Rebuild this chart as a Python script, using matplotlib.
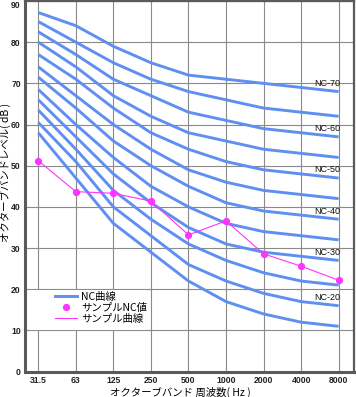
import matplotlib
matplotlib.use("Agg")
import matplotlib.pyplot as plt
from matplotlib.lines import Line2D
from matplotlib.patches import Rectangle

# octave band centre frequencies (tick labels)
freq_labels = ["31.5", "63", "125", "250", "500", "1000", "2000", "4000", "8000"]

# NC curves, levels in dB for each octave band
nc_levels = [15, 20, 25, 30, 35, 40, 45, 50, 55, 60, 65, 70]
nc_curves = [
    [58.0, 47, 36, 29, 22, 17, 14, 12, 11],
    [60.5, 51, 40, 33, 26, 22, 19, 17, 16],
    [63.5, 54, 44, 37, 31, 27, 24, 22, 21],
    [66.0, 57, 48, 41, 35, 31, 29, 28, 27],
    [68.5, 60, 52, 45, 40, 36, 34, 33, 32],
    [71.5, 64, 56, 50, 45, 41, 39, 38, 37],
    [74.0, 67, 60, 54, 49, 46, 44, 43, 42],
    [77.0, 71, 64, 58, 54, 51, 49, 48, 47],
    [80.0, 74, 67, 62, 58, 56, 54, 53, 52],
    [82.5, 77, 71, 67, 63, 61, 59, 58, 57],
    [85.0, 80, 75, 71, 68, 66, 64, 63, 62],
    [87.2, 84, 79, 75, 72, 71, 70, 69, 68],
]

# sample measurement
sample_values = [51.2, 43.7, 43.3, 41.4, 33.2, 36.6, 28.6, 25.6, 22.2]

# labelled curves and where the label sits (dB)
label_levels = [70, 60, 50, 40, 30, 20]
label_y = [70, 59, 49, 39, 29, 18]

BLUE = "#5f8ff0"
MAGENTA = "#ff33ff"
GRID = "#8a8a8a"
SPINE = "#5a5a5a"
JP_FONT = ["Noto Sans CJK JP", "DejaVu Sans"]

fig = plt.figure(figsize=(3.56, 3.97), dpi=100)
ax = fig.add_axes([25 / 356, 25.4 / 397, 329 / 356, 370.6 / 397])

x = list(range(len(freq_labels)))

ax.set_xlim(-0.355, 8.41)
ax.set_ylim(0, 90)
ax.set_xticks(x)
ax.set_xticklabels(freq_labels)
ax.set_yticks(range(0, 91, 10))
ax.tick_params(length=0, labelsize=6.2, colors="#222222")
ax.tick_params(axis="x", pad=3)
ax.tick_params(axis="y", pad=3)
for lab in ax.get_xticklabels() + ax.get_yticklabels():
    lab.set_fontfamily("Liberation Sans")
    lab.set_fontweight("bold")
# top label sits just inside the figure, as in the original
ax.get_yticklabels()[-1].set_va("top")

ax.grid(True, color=GRID, linewidth=0.8)
ax.set_axisbelow(True)

for side in ["left", "bottom"]:
    ax.spines[side].set_linewidth(2.2)
    ax.spines[side].set_color(SPINE)
for side in ["top", "right"]:
    ax.spines[side].set_linewidth(1.6)
    ax.spines[side].set_color(SPINE)

# NC curves
for curve in nc_curves:
    ax.plot(x, curve, color=BLUE, linewidth=2.1, zorder=2, solid_capstyle="butt")

for lvl, ly in zip(label_levels, label_y):
    ax.text(7.69, ly, f"NC-{lvl}", ha="center", va="center", fontsize=6.5,
            family="Liberation Sans", color="#111111", zorder=3)

# sample curve
ax.plot(x, sample_values, color=MAGENTA, linewidth=0.8, zorder=3)
ax.plot(x, sample_values, linestyle="none", marker="o", markersize=4.2,
        color=MAGENTA, zorder=4)

# white patch behind legend
ax.add_patch(Rectangle((0.015, 0.112), 0.35, 0.108, transform=ax.transAxes,
                       facecolor="white", edgecolor="none", zorder=1))

handles = [
    Line2D([], [], color=BLUE, linewidth=2.1),
    Line2D([], [], color=MAGENTA, marker="o", markersize=4.2, linestyle="none"),
    Line2D([], [], color=MAGENTA, linewidth=0.8),
]
labels = ["NC曲線", "サンプルNC値", "サンプル曲線"]
leg = ax.legend(handles, labels, loc="upper left", bbox_to_anchor=(0.091, 0.216),
                frameon=False, borderpad=0, borderaxespad=0, labelspacing=0.12,
                handlelength=2.1, handletextpad=0.4,
                prop={"family": JP_FONT, "size": 7.5})
leg.set_zorder(5)

ax.set_xlabel("オクターブバンド 周波数( Hz )", family=JP_FONT, fontsize=7.5)
ax.xaxis.set_label_coords((180 - 25) / 329, -(392.5 - 371.6) / 370.6)
ax.xaxis.label.set_va("center")
ax.set_ylabel("オクターブバンドレベル( dB )", family=JP_FONT, fontsize=7.5)
ax.yaxis.set_label_coords(-(25 - 6) / 329, (371.6 - 172) / 370.6)
ax.yaxis.label.set_va("center")

fig.savefig("out.png", dpi=100)
